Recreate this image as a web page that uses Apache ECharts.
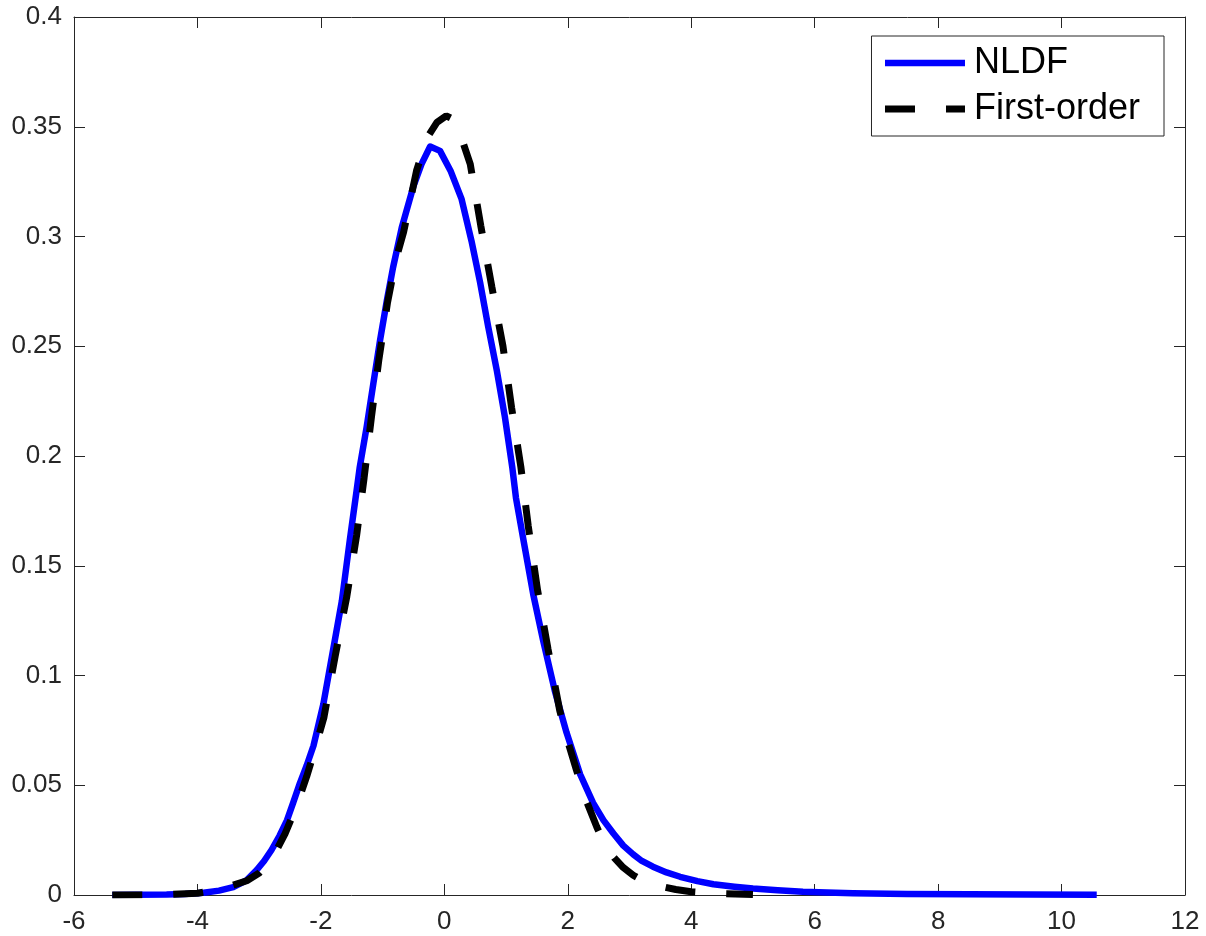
<!DOCTYPE html>
<html>
<head>
<meta charset="utf-8">
<script src="https://cdn.jsdelivr.net/npm/echarts@6/dist/echarts.min.js"></script>
<style>
html,body{margin:0;padding:0;background:#fff;}
#chart{width:1206px;height:936px;}
</style>
</head>
<body>
<div id="chart"></div>
<script>
// NLDF density (solid blue)
const nldfX = [-5.38,-5.0,-4.5,-4.2,-3.9,-3.65,-3.42,-3.2,-3.04,-2.92,-2.80,-2.67,-2.55,-2.45,-2.34,-2.23,-2.12,-1.96,-1.80,-1.66,-1.53,-1.42,-1.37,-1.26,-1.15,-1.04,-0.93,-0.83,-0.69,-0.50,-0.37,-0.23,-0.07,0.10,0.28,0.44,0.58,0.71,0.85,0.98,1.10,1.16,1.28,1.44,1.60,1.79,1.98,2.20,2.41,2.58,2.74,2.90,3.06,3.20,3.38,3.60,3.82,4.10,4.36,4.70,5.0,5.4,5.81,6.2,6.62,7.5,8.5,9.5,10.57];
const nldfY = [0.0000,0.0001,0.0002,0.0005,0.0010,0.0020,0.0036,0.0068,0.0114,0.0155,0.0205,0.027,0.034,0.042,0.051,0.059,0.068,0.087,0.112,0.134,0.162,0.1845,0.195,0.213,0.233,0.253,0.271,0.286,0.304,0.323,0.333,0.341,0.339,0.330,0.317,0.298,0.279,0.259,0.239,0.218,0.195,0.181,0.162,0.137,0.116,0.093,0.074,0.055,0.042,0.034,0.028,0.0225,0.0185,0.0155,0.0129,0.0103,0.0083,0.0063,0.0049,0.0038,0.0030,0.0022,0.0015,0.0011,0.0008,0.0005,0.0003,0.0002,0.0001];
// First-order density (dashed black)
const firstX = [-5.38,-4.9,-4.5,-4.0,-3.6,-3.2,-3.0,-2.8,-2.58,-2.40,-2.23,-2.08,-1.95,-1.77,-1.58,-1.42,-1.30,-1.18,-1.06,-0.92,-0.78,-0.66,-0.45,-0.28,-0.12,0.03,0.17,0.30,0.42,0.59,0.77,0.95,1.09,1.24,1.36,1.51,1.68,1.87,2.00,2.14,2.30,2.47,2.60,2.75,2.90,3.06,3.25,3.5,3.75,4.0,4.5,5.0];
const firstY = [0.0000,0.0001,0.0002,0.0008,0.0028,0.0065,0.010,0.016,0.028,0.040,0.054,0.068,0.081,0.1086,0.136,0.164,0.190,0.218,0.244,0.270,0.290,0.302,0.330,0.345,0.352,0.355,0.353,0.343,0.333,0.305,0.277,0.250,0.222,0.195,0.168,0.139,0.112,0.084,0.070,0.057,0.043,0.031,0.023,0.017,0.0125,0.009,0.006,0.004,0.0025,0.0015,0.0006,0.0002];
const seriesNames = ['NLDF','First-order'];
const xTicks = {min:-6, max:12, interval:2};
const yTicks = {min:0, max:0.4, interval:0.05};

const zip = (xs, ys) => xs.map((x, i) => [x, ys[i]]);
const FONT = "'Liberation Sans', Arial, Helvetica, sans-serif";
const AX = '#262626';
const BLUE = '#0000ff', BLACK = '#000000';
const blueLine = {color:BLUE, width:6.5, join:'round'};
const blackLine = {color:BLACK, width:7, type:[30,31], cap:'butt'};
const hiddenSymbol = {color:'rgba(0,0,0,0)', borderWidth:0, opacity:0};

const chart = echarts.init(document.getElementById('chart'), null, {renderer:'canvas'});
const axisCommon = {
  axisLine:{show:true, onZero:false, lineStyle:{color:AX, width:1}},
  axisTick:{show:true, inside:true, length:11, lineStyle:{color:AX, width:1}},
  splitLine:{show:false}
};
chart.setOption({
  animation:false,
  backgroundColor:'#fff',
  grid:{left:74, right:21, top:17, bottom:41, containLabel:false},
  xAxis:[
    Object.assign({type:'value', position:'bottom', min:xTicks.min, max:xTicks.max, interval:xTicks.interval,
      axisLabel:{show:true, color:AX, fontSize:26, fontFamily:FONT, margin:14}}, axisCommon),
    Object.assign({type:'value', position:'top', min:xTicks.min, max:xTicks.max, interval:xTicks.interval,
      axisLabel:{show:false}}, axisCommon)
  ],
  yAxis:[
    Object.assign({type:'value', position:'left', min:yTicks.min, max:yTicks.max, interval:yTicks.interval,
      axisLabel:{show:true, color:AX, fontSize:26, fontFamily:FONT, margin:12}}, axisCommon),
    Object.assign({type:'value', position:'right', min:yTicks.min, max:yTicks.max, interval:yTicks.interval,
      axisLabel:{show:false}}, axisCommon)
  ],
  legend:{
    orient:'vertical', right:42, top:36,
    itemWidth:80, itemHeight:20, itemGap:10,
    padding:[9,24,9,10],
    borderColor:AX, borderWidth:1, borderRadius:0, backgroundColor:'#fff',
    textStyle:{fontSize:36, color:'#000', fontFamily:FONT, padding:[0,0,0,4]},
    itemStyle:hiddenSymbol,
    data:[
      {name:seriesNames[0], itemStyle:hiddenSymbol, lineStyle:blueLine},
      {name:seriesNames[1], itemStyle:hiddenSymbol, lineStyle:blackLine}
    ]
  },
  series:[
    {name:seriesNames[0], type:'line', data:zip(nldfX, nldfY), showSymbol:false, symbol:'none',
      lineStyle:blueLine, itemStyle:{color:BLUE}, z:2},
    {name:seriesNames[1], type:'line', data:zip(firstX, firstY), showSymbol:false, symbol:'none',
      lineStyle:blackLine, itemStyle:{color:BLACK}, z:3}
  ]
});
</script>
</body>
</html>
